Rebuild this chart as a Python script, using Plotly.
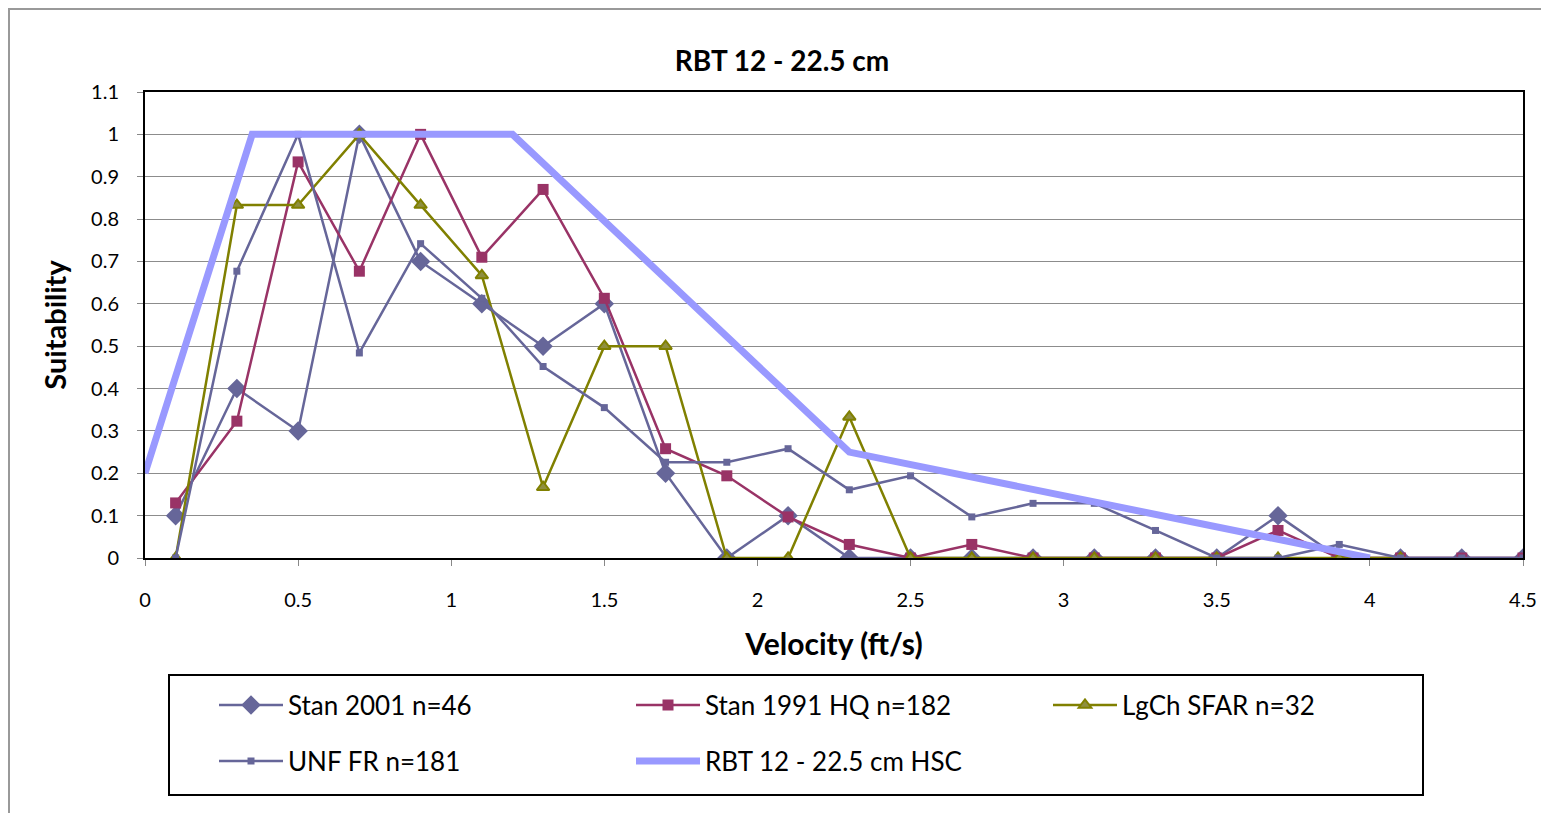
import plotly.graph_objects as go

x_vals = [0.1, 0.3, 0.5, 0.7, 0.9, 1.1, 1.3, 1.5, 1.7, 1.9, 2.1, 2.3, 2.5, 2.7, 2.9, 3.1, 3.3, 3.5, 3.7, 3.9, 4.1, 4.3, 4.5]

stan2001 = [0.1, 0.4, 0.3, 1.0, 0.7, 0.6, 0.5, 0.6, 0.2, 0, 0.1, 0, 0, 0, 0, 0, 0, 0, 0.1, 0, 0, 0, 0]
stan1991 = [0.13, 0.323, 0.935, 0.677, 1.0, 0.71, 0.87, 0.613, 0.258, 0.194, 0.097, 0.032, 0, 0.032, 0, 0, 0, 0, 0.065, 0, 0, 0, 0]
lgch_x = x_vals[:21]
lgch = [0, 0.833, 0.833, 1.0, 0.833, 0.667, 0.167, 0.5, 0.5, 0, 0, 0.333, 0, 0, 0, 0, 0, 0, 0, 0, 0]
unf = [0, 0.677, 1.0, 0.484, 0.742, 0.613, 0.452, 0.355, 0.226, 0.226, 0.258, 0.161, 0.194, 0.097, 0.129, 0.129, 0.065, 0, 0, 0.032, 0, 0, 0]
hsc_x = [0, 0.35, 1.2, 2.3, 4.0]
hsc_y = [0.2, 1.0, 1.0, 0.25, 0.0]

FONT = "Lato"
OFF = 8  # page body margin
SW, SH = 1549, 813
W, H = SW - OFF, SH - OFF
PL, PR, PT, PB = 145, 1523, 92, 558  # plot area in screen px
L, R, T, B = PL - OFF, SW - PR, PT - OFF, SH - PB

fig = go.Figure()
fig.add_trace(go.Scatter(x=x_vals, y=stan2001, name="Stan 2001 n=46", mode="lines+markers",
                         line=dict(color="#666699", width=2.5),
                         marker=dict(symbol="diamond", size=15, color="#666699"), legend="legend"))
fig.add_trace(go.Scatter(x=x_vals, y=stan1991, name="Stan 1991 HQ n=182", mode="lines+markers",
                         line=dict(color="#993366", width=2.5),
                         marker=dict(symbol="square", size=11, color="#993366"), legend="legend"))
fig.add_trace(go.Scatter(x=lgch_x, y=lgch, name="LgCh SFAR n=32", mode="lines+markers",
                         line=dict(color="#808000", width=2.5),
                         marker=dict(symbol="triangle-up", size=11, color="#8f8f40",
                                     line=dict(color="#808000", width=2)), legend="legend"))
fig.add_trace(go.Scatter(x=x_vals, y=unf, name="UNF FR n=181", mode="lines+markers",
                         line=dict(color="#666699", width=2.5),
                         marker=dict(symbol="square", size=7, color="#666699"), legend="legend2"))
fig.add_trace(go.Scatter(x=hsc_x, y=hsc_y, name="RBT 12 - 22.5 cm HSC", mode="lines",
                         line=dict(color="#9999FF", width=7), legend="legend2"))

pw = PR - PL
ph = PB - PT

def px_x(p):
    return (p - PL) / pw

def px_y(p):
    return (PB - p) / ph

legend_common = dict(orientation="h", entrywidth=338, entrywidthmode="pixels",
                     font=dict(family=FONT, size=26, color="black"),
                     bgcolor="rgba(0,0,0,0)", borderwidth=0,
                     xanchor="left", yanchor="middle", itemwidth=64,
                     tracegroupgap=0)

fig.update_layout(
    width=W, height=H,
    margin=dict(l=L, r=R, t=T, b=B),
    paper_bgcolor="white", plot_bgcolor="white",
    font=dict(family=FONT, size=20, color="black"),
    title=dict(text="<b>RBT 12 - 22.5 cm</b>", x=(782 - OFF) / W, xanchor="center",
               y=1 - (61 - OFF) / H, yanchor="middle", font=dict(family=FONT, size=28, color="black")),
    legend=dict(x=px_x(214), y=px_y(705), **legend_common),
    legend2=dict(x=px_x(214), y=px_y(761), **legend_common),
    xaxis=dict(range=[0, 4.5], tickvals=[0, 0.5, 1, 1.5, 2, 2.5, 3, 3.5, 4, 4.5],
               ticktext=["0", "0.5", "1", "1.5", "2", "2.5", "3", "3.5", "4", "4.5"],
               showgrid=False, zeroline=False, showline=True, linecolor="black", linewidth=2,
               mirror=True, ticks="outside", ticklen=6, tickcolor="#888888",
               tickfont=dict(family=FONT, size=20), ticklabelstandoff=17,
               title=dict(text="<b>Velocity (ft/s)</b>", font=dict(family=FONT, size=30), standoff=24)),
    yaxis=dict(range=[0, 1.1], tickvals=[0, 0.1, 0.2, 0.3, 0.4, 0.5, 0.6, 0.7, 0.8, 0.9, 1.0, 1.1],
               ticktext=["0", "0.1", "0.2", "0.3", "0.4", "0.5", "0.6", "0.7", "0.8", "0.9", "1", "1.1"],
               showgrid=True, gridcolor="#8c8c8c", gridwidth=1.3, zeroline=False,
               showline=True, linecolor="black", linewidth=2, mirror=True,
               ticks="outside", ticklen=6, tickcolor="#888888",
               tickfont=dict(family=FONT, size=20), ticklabelstandoff=14,
               title=dict(text="<b>Suitability</b>", font=dict(family=FONT, size=29), standoff=16)),
    shapes=[
        dict(type="rect", xref="paper", yref="paper",
             x0=px_x(169), x1=px_x(1423), y0=px_y(795), y1=px_y(675),
             line=dict(color="black", width=2), fillcolor="rgba(0,0,0,0)", layer="above"),
        dict(type="rect", xref="paper", yref="paper",
             x0=px_x(9), x1=px_x(1600), y0=px_y(900), y1=px_y(9),
             line=dict(color="#999999", width=2), fillcolor="rgba(0,0,0,0)", layer="below"),
    ],
)

fig.write_html("out.html")
